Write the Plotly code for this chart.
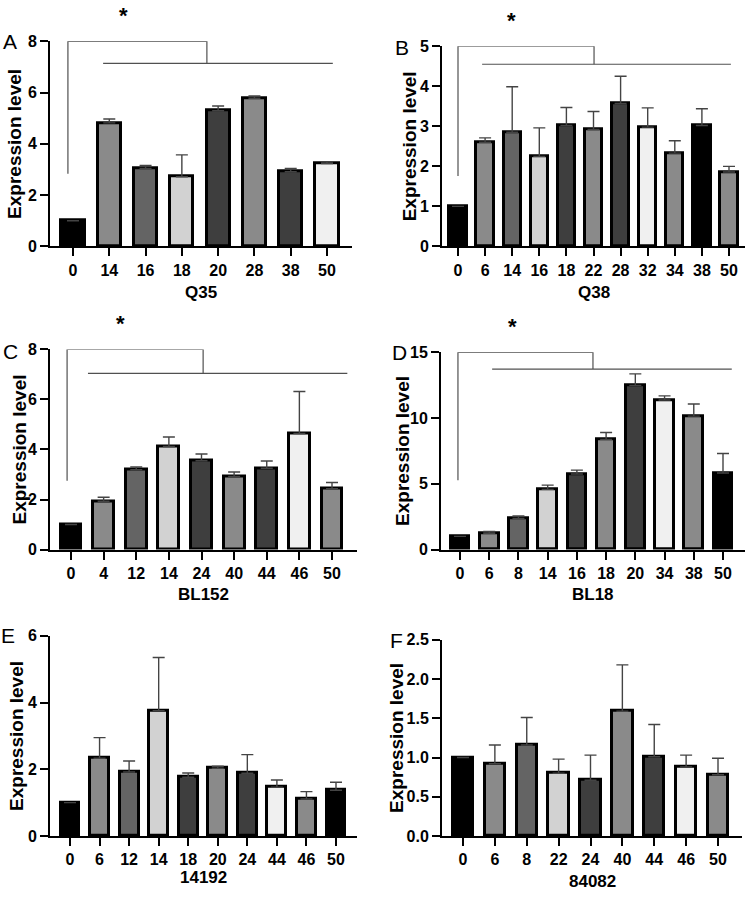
import plotly.graph_objects as go

W, H = 750, 897

# ---------------- data ----------------
a_cats = ["0", "14", "16", "18", "20", "28", "38", "50"]
a_vals = [1.0, 4.82, 3.04, 2.72, 5.29, 5.78, 2.91, 3.23]
a_errs = [0, 0.15, 0.12, 0.85, 0.19, 0.09, 0.13, 0.06]

b_cats = ["0", "6", "14", "16", "18", "22", "28", "32", "34", "38", "50"]
b_vals = [1.0, 2.60, 2.85, 2.25, 3.02, 2.92, 3.57, 2.98, 2.33, 3.02, 1.86]
b_errs = [0, 0.11, 1.14, 0.71, 0.45, 0.45, 0.68, 0.48, 0.31, 0.42, 0.14]

c_cats = ["0", "4", "12", "14", "24", "40", "44", "46", "50"]
c_vals = [1.0, 1.93, 3.19, 4.12, 3.55, 2.92, 3.25, 4.64, 2.43]
c_errs = [0, 0.16, 0.11, 0.38, 0.27, 0.18, 0.29, 1.68, 0.25]

d_cats = ["0", "6", "8", "14", "16", "18", "20", "34", "38", "50"]
d_vals = [1.0, 1.24, 2.36, 4.58, 5.75, 8.38, 12.49, 11.37, 10.15, 5.82]
d_errs = [0, 0.13, 0.20, 0.32, 0.29, 0.52, 0.87, 0.32, 0.92, 1.49]

e_cats = ["0", "6", "12", "14", "18", "20", "24", "44", "46", "50"]
e_vals = [1.0, 2.33, 1.92, 3.76, 1.76, 2.03, 1.88, 1.46, 1.11, 1.37]
e_errs = [0, 0.62, 0.33, 1.59, 0.13, 0.06, 0.56, 0.22, 0.22, 0.24]

f_cats = ["0", "6", "8", "22", "24", "40", "44", "46", "50"]
f_vals = [1.0, 0.92, 1.16, 0.80, 0.71, 1.59, 1.01, 0.88, 0.78]
f_errs = [0, 0.24, 0.35, 0.18, 0.32, 0.59, 0.41, 0.15, 0.21]

x_titles = ["Q35", "Q38", "BL152", "BL18", "14192", "84082"]
letters = ["A", "B", "C", "D", "E", "F"]
y_ticks = [[0, 2, 4, 6, 8], [0, 1, 2, 3, 4, 5], [0, 2, 4, 6, 8],
           [0, 5, 10, 15], [0, 2, 4, 6], [0, 0.5, 1.0, 1.5, 2.0, 2.5]]

# ---------------- styling ----------------
K, G1, G2, G3, G4, G5 = "#000000", "#8a8a8a", "#646464", "#d2d2d2", "#3e3e3e", "#f0f0f0"
a_cols = [K, G1, G2, G3, G4, G1, G4, G5]
b_cols = [K, G1, G2, G3, G4, G1, G4, G5, G1, K, G1]
c_cols = [K, G1, G2, G3, G4, G1, G4, G5, G1]
d_cols = [K, G1, G2, G3, G4, G1, G4, G5, G1, K]
e_cols = [K, G1, G2, G3, G4, G1, G4, G5, G1, K]
f_cols = [K, G1, G2, G3, G4, G1, G4, G5, G1]

panels = [
    (a_cats, a_vals, a_errs, a_cols),
    (b_cats, b_vals, b_errs, b_cols),
    (c_cats, c_vals, c_errs, c_cols),
    (d_cats, d_vals, d_errs, d_cols),
    (e_cats, e_vals, e_errs, e_cols),
    (f_cats, f_vals, f_errs, f_cols),
]

# pixel geometry: axis left, axis right, first bar centre, last bar centre, y bottom, y top
geom = [
    dict(xl=50, xr=352, x0=73, xn=327, yb=243, yt=34, ty=290, yx=15, lx=10, ly=34),
    dict(xl=442, xr=745, x0=458, xn=729, yb=243, yt=39, ty=290, yx=409, lx=402, ly=40),
    dict(xl=50, xr=357, x0=71, xn=332, yb=552, yt=348, ty=598, yx=19, lx=10, ly=350),
    dict(xl=441, xr=745, x0=460, xn=723, yb=552, yt=351, ty=598, yx=403, lx=399, ly=351),
    dict(xl=50, xr=357, x0=70, xn=336, yb=844, yt=640, ty=886, yx=17, lx=8, ly=640),
    dict(xl=442, xr=742, x0=463, xn=718, yb=844, yt=644, ty=890, yx=397, lx=396, ly=645),
]

# significance brackets (panels A-D): vertical x, vertical bottom, top end x, lower level, lower start, lower end, star x
brackets = [
    dict(vx=-0.14, vb=2.83, hx=3.69, ly=7.14, l0=0.83, l1=7.16, sx=1.38),
    dict(vx=0.0, vb=1.76, hx=5.02, ly=4.55, l0=0.89, l1=10.07, sx=1.99),
    dict(vx=-0.12, vb=2.75, hx=4.05, ly=7.04, l0=0.52, l1=8.47, sx=1.53),
    dict(vx=-0.07, vb=5.27, hx=4.55, ly=13.73, l0=1.10, l1=9.30, sx=1.78),
]

FONT = "Arial, Liberation Sans, Helvetica, sans-serif"

fig = go.Figure()
shapes = []
annotations = []

for i, ((cats, vals, errs, cols), g) in enumerate(zip(panels, geom)):
    n = len(cats)
    sfx = "" if i == 0 else str(i + 1)
    slot = (g["xn"] - g["x0"]) / (n - 1)
    xr0 = -(g["x0"] - g["xl"]) / slot
    xr1 = (n - 1) + (g["xr"] - g["xn"]) / slot
    xs = list(range(n))
    fig.add_trace(go.Bar(
        x=xs, y=vals, width=0.64,
        marker=dict(color=cols, line=dict(color="black", width=3)),
        error_y=dict(type="data", array=errs, arrayminus=[0] * n, symmetric=False,
                     color="#444444", thickness=1.4, width=6, visible=True),
        xaxis="x" + sfx, yaxis="y" + sfx, showlegend=False, hoverinfo="skip",
    ))
    yt = y_ticks[i]
    fig.layout["xaxis" + sfx] = dict(
        domain=[g["xl"] / W, g["xr"] / W], range=[xr0, xr1], anchor="y" + sfx,
        tickmode="array", tickvals=xs, ticktext=cats,
        ticks="outside", ticklen=8, tickwidth=2, tickcolor="black",
        showline=True, linecolor="black", linewidth=2, showgrid=False, zeroline=False,
        tickfont=dict(family=FONT, size=16, color="black", weight="bold"),
    )
    fig.layout["yaxis" + sfx] = dict(
        domain=[1 - g["yb"] / H, 1 - g["yt"] / H], range=[0, yt[-1]], anchor="x" + sfx,
        tickmode="array", tickvals=yt,
        ticktext=[("%.1f" % v) if i == 5 else str(v) for v in yt],
        ticks="outside", ticklen=8, tickwidth=2, tickcolor="black",
        showline=True, linecolor="black", linewidth=2, showgrid=False, zeroline=False,
        tickfont=dict(family=FONT, size=16, color="black", weight="bold"),
    )
    # x title
    annotations.append(dict(text=x_titles[i], xref="paper", yref="paper",
                            x=(g["xl"] + g["xr"]) / 2 / W, y=1 - g["ty"] / H,
                            showarrow=False, xanchor="center", yanchor="middle",
                            font=dict(family=FONT, size=17, color="black", weight="bold")))
    # y title
    annotations.append(dict(text="Expression level", xref="paper", yref="paper",
                            x=g["yx"] / W, y=1 - (g["yb"] + g["yt"]) / 2 / H, textangle=-90,
                            showarrow=False, xanchor="center", yanchor="middle",
                            font=dict(family=FONT, size=19, color="black", weight="bold")))
    # panel letter
    annotations.append(dict(text=letters[i], xref="paper", yref="paper",
                            x=g["lx"] / W, y=1 - g["ly"] / H,
                            showarrow=False, xanchor="center", yanchor="middle",
                            font=dict(family=FONT, size=21, color="black")))
    if i < 4:
        b = brackets[i]
        ymax = yt[-1]
        xref, yref = "x" + sfx, "y" + sfx
        lc = dict(color="#505050", width=1.2)
        shapes.append(dict(type="path", xref=xref, yref=yref, line=lc,
                           path=f"M {b['vx']},{b['vb']} L {b['vx']},{ymax} L {b['hx']},{ymax} L {b['hx']},{b['ly']}"))
        shapes.append(dict(type="line", xref=xref, yref=yref, line=lc,
                           x0=b["l0"], x1=b["l1"], y0=b["ly"], y1=b["ly"]))
        annotations.append(dict(text="*", xref=xref, yref=yref + " domain",
                                x=b["sx"], y=1, yshift=26, showarrow=False,
                                xanchor="center", yanchor="middle",
                                font=dict(family=FONT, size=22, color="black", weight="bold")))

fig.update_layout(
    width=W, height=H, margin=dict(l=0, r=0, t=0, b=0),
    paper_bgcolor="white", plot_bgcolor="white",
    shapes=shapes, annotations=annotations, bargap=0,
)

fig.write_html("out.html", config={"displayModeBar": False},
               post_script="document.body.style.margin='0';document.body.style.overflow='hidden';")
